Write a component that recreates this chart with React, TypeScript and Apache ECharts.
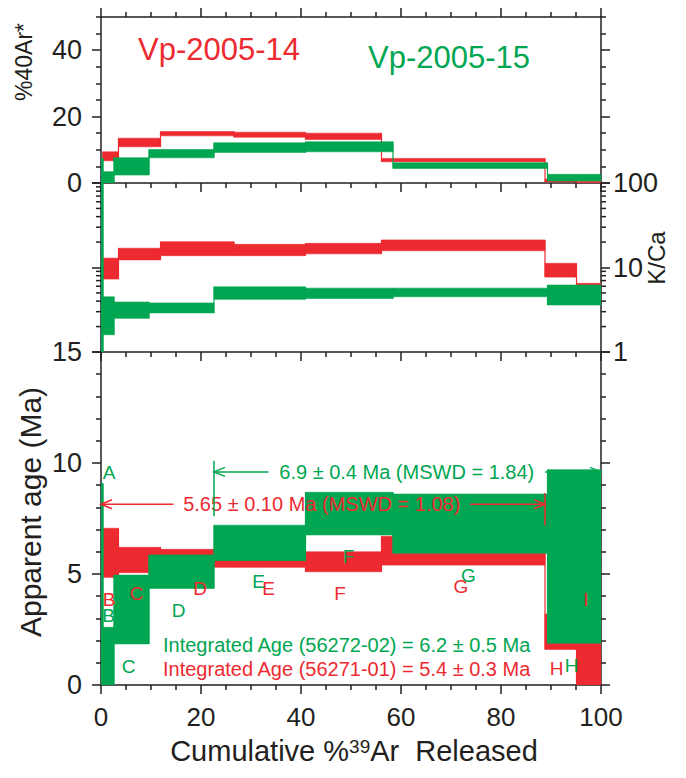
import React, { useEffect, useRef } from 'react';
import * as echarts from 'echarts';

const RED = '#ED2A30';
const GREEN = '#00A651';
const INK = '#231F20';
const FONT = '"Liberation Sans", Arial, Helvetica, sans-serif';

// ---------- Vp-2005-14 (red) ----------
const redSteps = ['B', 'C', 'D', 'E', 'F', 'G', 'H', 'I'];
const redEdges = [0.3, 3.5, 11.9, 26.6, 40.9, 56.1, 88.8, 95.1, 100];
const redArLo = [6.7, 10.9, 14.2, 13.8, 13.1, 6.4, 0.3, 0.0];
const redArHi = [9.4, 13.5, 15.5, 15.3, 15.0, 7.4, 1.2, 0.5];
const redKcaLo = [7.3, 12.3, 13.8, 13.8, 14.5, 15.8, 7.7, 6.2];
const redKcaHi = [12.9, 16.9, 20.2, 18.8, 19.3, 21.2, 11.2, 6.5];
const redAgeLo = [4.85, 5.06, 5.3, 5.3, 5.1, 5.4, 1.6, 0.0];
const redAgeHi = [7.06, 6.2, 6.11, 5.8, 6.0, 6.7, 3.2, 1.9];
const redLabelX = [1.6, 7.1, 19.8, 33.5, 47.8, 72.0, 91.1, 97.0];
const redLabelY = [3.85, 4.1, 4.35, 4.35, 4.13, 4.43, 0.75, 3.83];

// ---------- Vp-2005-15 (green) ----------
const greenSteps = ['A', 'B', 'C', 'D', 'E', 'F', 'G', 'H'];
const greenEdges = [0, 0.4, 2.6, 9.6, 22.6, 40.9, 58.4, 89.3, 100];
const greenArLo = [0, 0, 2.4, 7.6, 9.2, 9.4, 4.4, 0.6];
const greenArHi = [7.5, 3.4, 7.6, 10.1, 12.1, 12.4, 6.1, 2.6];
const greenKcaLo = [1, 1.6, 2.5, 2.9, 4.2, 4.3, 4.5, 3.6];
const greenKcaHi = [100, 4.5, 3.9, 3.8, 5.9, 5.7, 5.7, 6.2];
const greenAgeLo = [0, 0, 1.85, 4.35, 5.6, 6.76, 5.93, 1.88];
const greenAgeHi = [9.08, 2.6, 4.95, 5.86, 7.2, 8.68, 8.6, 9.7];
const greenLabelX = [1.6, 1.5, 5.5, 15.5, 31.5, 49.5, 73.5, 94.1];
const greenLabelY = [9.56, 3.15, 0.85, 3.35, 4.65, 5.78, 4.95, 0.86];

// ---------- plateau annotations (red, green) ----------
const plateauText = ['5.65 ± 0.10 Ma (MSWD = 1.08)', '6.9 ± 0.4 Ma (MSWD = 1.84)'];
const plateauColor = [RED, GREEN];
const plateauFrom = [0, 22.6];
const plateauTo = [88.8, 100];
const plateauAge = [8.14, 9.6];
const plateauGapFrom = [14.5, 33.5];
const plateauGapTo = [73.8, 88.8];
const plateauBarX = [88.8, 22.6];
const plateauBarLo = [7.2, 7.6];
const plateauBarHi = [8.65, 10.1];

// ---------- integrated ages ----------
const integratedText = [
  'Integrated Age (56272-02) = 6.2 ± 0.5 Ma',
  'Integrated Age (56271-01) = 5.4 ± 0.3 Ma',
];
const integratedColor = [GREEN, RED];
const integratedX = [12.4, 12.4];
const integratedY = [1.8, 0.72];

// ---------- ticks ----------
const xMajorTicks = [0, 20, 40, 60, 80, 100];
const xMinorTicks = [5, 10, 15, 25, 30, 35, 45, 50, 55, 65, 70, 75, 85, 90, 95];
const arMajorTicks = [0, 20, 40];
const arMinorTicks = [5, 10, 15, 25, 30, 35, 45, 50];
const ageMajorTicks = [0, 5, 10, 15];
const ageMinorTicks = [1, 2, 3, 4, 6, 7, 8, 9, 11, 12, 13, 14];
const kcaMinorTicks = [2, 3, 4, 5, 6, 7, 8, 9, 20, 30, 40, 50, 60, 70, 80, 90];

const MAJ = 9;
const MIN = 5;

function stepSeries(edges: number[], lo: number[], hi: number[], color: string, xi: number, yi: number) {
  return {
    type: 'custom',
    xAxisIndex: xi,
    yAxisIndex: yi,
    clip: true,
    data: lo.map((l, i) => [edges[i], edges[i + 1], l, hi[i]]),
    renderItem: (params: any, api: any) => {
      const i = params.dataIndex;
      const x0 = api.value(0);
      const x1 = api.value(1);
      const l = api.value(2);
      const h = api.value(3);
      const a = api.coord([x0, h]);
      const b = api.coord([x1, l]);
      const children: any[] = [
        {
          type: 'rect',
          shape: { x: a[0], y: a[1], width: b[0] - a[0], height: b[1] - a[1] },
          style: { fill: color, stroke: color, lineWidth: 0.6 },
        },
      ];
      if (i > 0) {
        const top = api.coord([x0, Math.max(h, hi[i - 1])]);
        const bot = api.coord([x0, Math.min(l, lo[i - 1])]);
        children.push({
          type: 'line',
          shape: { x1: top[0], y1: top[1], x2: bot[0], y2: bot[1] },
          style: { stroke: color, lineWidth: 1.2 },
        });
      }
      return { type: 'group', children };
    },
  };
}

function letterSeries(xs: number[], ys: number[], letters: string[], color: string) {
  return {
    type: 'custom',
    xAxisIndex: 6,
    yAxisIndex: 6,
    data: xs.map((x, i) => [x, ys[i]]),
    renderItem: (params: any, api: any) => {
      const p = api.coord([api.value(0), api.value(1)]);
      return {
        type: 'text',
        x: p[0],
        y: p[1],
        style: {
          text: letters[params.dataIndex],
          fill: color,
          fontSize: 19,
          fontFamily: FONT,
          align: 'center',
          verticalAlign: 'middle',
        },
      };
    },
  };
}

function xAxisDef(grid: number, pos: string, ticks: number[], len: number, major: boolean, labels: boolean) {
  return {
    type: 'value',
    gridIndex: grid,
    position: pos,
    min: 0,
    max: 100,
    axisLine: { show: major, onZero: false, lineStyle: { color: INK, width: 1.5 } },
    axisTick: { show: true, inside: false, length: len, customValues: ticks, lineStyle: { color: INK, width: 1.5 } },
    axisLabel: labels
      ? { show: true, customValues: ticks, color: INK, fontSize: 26, fontFamily: FONT, margin: 19 }
      : { show: false },
    splitLine: { show: false },
  };
}

function yAxisDef(grid: number, pos: string, min: number, max: number, ticks: number[], len: number, major: boolean, labels: boolean) {
  return {
    type: 'value',
    gridIndex: grid,
    position: pos,
    min,
    max,
    axisLine: { show: major, onZero: false, lineStyle: { color: INK, width: 1.5 } },
    axisTick: { show: true, inside: false, length: len, customValues: ticks, lineStyle: { color: INK, width: 1.5 } },
    axisLabel: labels
      ? { show: true, customValues: ticks, color: INK, fontSize: 27, fontFamily: FONT, margin: 19 }
      : { show: false },
    splitLine: { show: false },
  };
}

function logAxisDef(pos: string, labels: boolean) {
  return {
    type: 'log',
    logBase: 10,
    gridIndex: 1,
    position: pos,
    min: 1,
    max: 100,
    axisLine: { show: true, onZero: false, lineStyle: { color: INK, width: 1.5 } },
    axisTick: { show: true, inside: false, length: MAJ, lineStyle: { color: INK, width: 1.5 } },
    axisLabel: labels
      ? { show: true, color: INK, fontSize: 27, fontFamily: FONT, margin: 12 }
      : { show: false },
    splitLine: { show: false },
    minorTick: { show: false },
  };
}

export default function App() {
  const ref = useRef<HTMLDivElement>(null);

  useEffect(() => {
    document.body.style.margin = '0';
    if (!ref.current) return;
    const chart = echarts.init(ref.current, undefined, { renderer: 'svg' });

    const option: any = {
      animation: false,
      backgroundColor: '#ffffff',
      grid: [
        { left: 101, top: 17, width: 500, height: 166 },
        { left: 101, top: 183, width: 500, height: 169 },
        { left: 101, top: 352, width: 500, height: 333 },
      ],
      xAxis: [
        xAxisDef(0, 'bottom', xMajorTicks, MAJ, true, false),
        xAxisDef(0, 'bottom', xMinorTicks, MIN, false, false),
        xAxisDef(0, 'top', xMajorTicks, MAJ, true, false),
        xAxisDef(0, 'top', xMinorTicks, MIN, false, false),
        xAxisDef(1, 'bottom', xMajorTicks, MAJ, true, false),
        xAxisDef(1, 'bottom', xMinorTicks, MIN, false, false),
        xAxisDef(2, 'bottom', xMajorTicks, MAJ, true, true),
        xAxisDef(2, 'bottom', xMinorTicks, MIN, false, false),
      ],
      yAxis: [
        yAxisDef(0, 'left', 0, 50, arMajorTicks, MAJ, true, true),
        yAxisDef(0, 'left', 0, 50, arMinorTicks, MIN, false, false),
        yAxisDef(0, 'right', 0, 50, arMajorTicks, MAJ, true, false),
        yAxisDef(0, 'right', 0, 50, arMinorTicks, MIN, false, false),
        logAxisDef('left', false),
        logAxisDef('right', true),
        yAxisDef(2, 'left', 0, 15, ageMajorTicks, MAJ, true, true),
        yAxisDef(2, 'left', 0, 15, ageMinorTicks, MIN, false, false),
        yAxisDef(2, 'right', 0, 15, ageMajorTicks, MAJ, true, false),
        yAxisDef(2, 'right', 0, 15, ageMinorTicks, MIN, false, false),
      ],
      series: [
        stepSeries(redEdges, redArLo, redArHi, RED, 0, 0),
        stepSeries(greenEdges, greenArLo, greenArHi, GREEN, 0, 0),
        stepSeries(redEdges, redKcaLo, redKcaHi, RED, 4, 4),
        stepSeries(greenEdges, greenKcaLo, greenKcaHi, GREEN, 4, 4),
        stepSeries(redEdges, redAgeLo, redAgeHi, RED, 6, 6),
        stepSeries(greenEdges, greenAgeLo, greenAgeHi, GREEN, 6, 6),
        {
          type: 'custom',
          xAxisIndex: 4,
          yAxisIndex: 4,
          clip: false,
          data: kcaMinorTicks.map((v) => [0, v]),
          renderItem: (params: any, api: any) => {
            const v = api.value(1);
            const l = api.coord([0, v]);
            const r = api.coord([100, v]);
            return {
              type: 'group',
              children: [
                { type: 'line', shape: { x1: l[0] - MIN, y1: l[1], x2: l[0], y2: l[1] }, style: { stroke: INK, lineWidth: 1.5 } },
                { type: 'line', shape: { x1: r[0], y1: r[1], x2: r[0] + MIN, y2: r[1] }, style: { stroke: INK, lineWidth: 1.5 } },
              ],
            };
          },
        },
        {
          type: 'custom',
          xAxisIndex: 6,
          yAxisIndex: 6,
          clip: false,
          data: plateauAge.map((a, i) => [plateauFrom[i], a]),
          renderItem: (params: any, api: any) => {
            const i = params.dataIndex;
            const c = plateauColor[i];
            const y = plateauAge[i];
            const pA = api.coord([plateauFrom[i], y]);
            const g0 = api.coord([plateauGapFrom[i], y]);
            const g1 = api.coord([plateauGapTo[i], y]);
            const pB = api.coord([plateauTo[i], y]);
            const b0 = api.coord([plateauBarX[i], plateauBarLo[i]]);
            const b1 = api.coord([plateauBarX[i], plateauBarHi[i]]);
            const tc = api.coord([(plateauGapFrom[i] + plateauGapTo[i]) / 2, y]);
            const ah = 11;
            const aw = 4.5;
            const st = { stroke: c, lineWidth: 1.5, fill: 'none' };
            return {
              type: 'group',
              children: [
                { type: 'line', shape: { x1: pA[0], y1: pA[1], x2: g0[0], y2: g0[1] }, style: st },
                { type: 'line', shape: { x1: g1[0], y1: g1[1], x2: pB[0], y2: pB[1] }, style: st },
                { type: 'polyline', shape: { points: [[pA[0] + ah, pA[1] - aw], [pA[0], pA[1]], [pA[0] + ah, pA[1] + aw]] }, style: st },
                { type: 'polyline', shape: { points: [[pB[0] - ah, pB[1] - aw], [pB[0], pB[1]], [pB[0] - ah, pB[1] + aw]] }, style: st },
                { type: 'line', shape: { x1: b0[0], y1: b0[1], x2: b1[0], y2: b1[1] }, style: st },
                {
                  type: 'text',
                  x: tc[0],
                  y: tc[1],
                  style: {
                    text: plateauText[i],
                    fill: c,
                    fontSize: 20,
                    fontFamily: FONT,
                    align: 'center',
                    verticalAlign: 'middle',
                  },
                },
              ],
            };
          },
        },
        letterSeries(redLabelX, redLabelY, redSteps, RED),
        letterSeries(greenLabelX, greenLabelY, greenSteps, GREEN),
        {
          type: 'custom',
          xAxisIndex: 6,
          yAxisIndex: 6,
          clip: false,
          data: integratedX.map((x, i) => [x, integratedY[i]]),
          renderItem: (params: any, api: any) => {
            const p = api.coord([api.value(0), api.value(1)]);
            return {
              type: 'text',
              x: p[0],
              y: p[1],
              style: {
                text: integratedText[params.dataIndex],
                fill: integratedColor[params.dataIndex],
                fontSize: 20,
                fontFamily: FONT,
                align: 'left',
                verticalAlign: 'middle',
              },
            };
          },
        },
      ],
      graphic: [
        {
          type: 'text',
          x: 138,
          y: 49,
          style: { text: 'Vp-2005-14', fill: RED, fontSize: 31, fontFamily: FONT, align: 'left', verticalAlign: 'middle' },
        },
        {
          type: 'text',
          x: 368,
          y: 57,
          style: { text: 'Vp-2005-15', fill: GREEN, fontSize: 31, fontFamily: FONT, align: 'left', verticalAlign: 'middle' },
        },
        {
          type: 'text',
          x: 24,
          y: 62,
          rotation: Math.PI / 2,
          style: { text: '%40Ar*', fill: INK, fontSize: 23, fontFamily: FONT, align: 'center', verticalAlign: 'middle' },
        },
        {
          type: 'text',
          x: 30,
          y: 512,
          rotation: Math.PI / 2,
          style: { text: 'Apparent age (Ma)', fill: INK, fontSize: 30, fontFamily: FONT, align: 'center', verticalAlign: 'middle' },
        },
        {
          type: 'text',
          x: 656,
          y: 258,
          rotation: Math.PI / 2,
          style: { text: 'K/Ca', fill: INK, fontSize: 24, fontFamily: FONT, align: 'center', verticalAlign: 'middle' },
        },
        {
          type: 'text',
          x: 354,
          y: 751,
          style: {
            text: 'Cumulative %{sup|39}Ar  Released',
            fill: INK,
            fontSize: 29,
            fontFamily: FONT,
            align: 'center',
            verticalAlign: 'middle',
            rich: { sup: { fontSize: 19, fontFamily: FONT, fill: INK, verticalAlign: 'top' } },
          },
        },
      ],
    };

    chart.setOption(option);
    return () => {
      chart.dispose();
    };
  }, []);

  return <div ref={ref} style={{ width: 686, height: 778 }} />;
}
